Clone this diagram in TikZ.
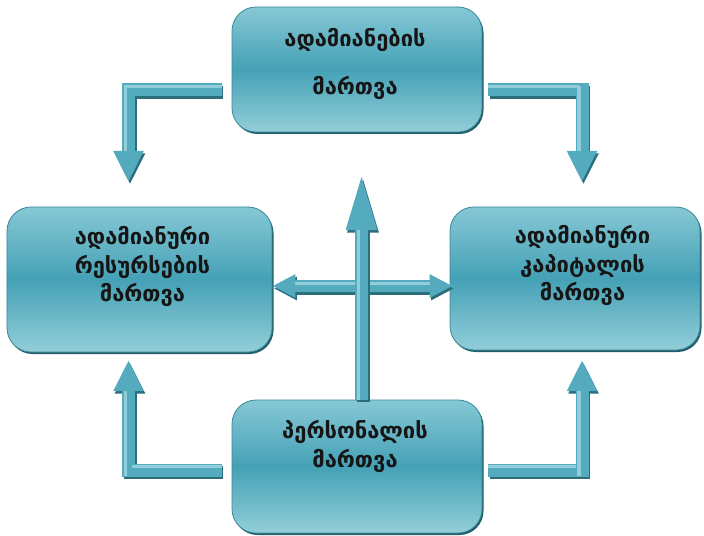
\documentclass[tikz,border=0pt]{standalone}
\usepackage{fontspec}
\newfontfamily\geofont{DejaVu Sans}
\usetikzlibrary{arrows.meta,calc,shadows}

\definecolor{panelTop}{HTML}{86C8D5}
\definecolor{panelMid}{HTML}{45A1B6}
\definecolor{panelBot}{HTML}{93CED9}
\definecolor{panelEdge}{HTML}{3A8899}
\definecolor{panelShade}{HTML}{1F5E6A}
\definecolor{shaftBody}{HTML}{55ABBE}
\definecolor{shaftDark}{HTML}{2C6E7C}
\definecolor{shaftLight}{HTML}{92CEDA}
\definecolor{labelInk}{HTML}{151515}

\tikzset{
  panel/.style 2 args={draw=panelEdge, line width=0.8bp, rounded corners=24bp,
    top color=panelTop, bottom color=panelBot, middle color=panelMid,
    minimum width=#1, minimum height=#2, inner sep=0pt,
    drop shadow={shadow xshift=1.5bp, shadow yshift=-2bp, fill=panelShade, opacity=1}},
  caption/.style={font=\geofont\bfseries\fontsize{22}{28.5}\selectfont,
    text=labelInk, align=center, inner sep=0pt},
  shaft/.style={line width=13bp, line join=miter, line cap=butt, draw=shaftBody},
  shaftshadow/.style={shaft, draw=shaftDark,
    transform canvas={xshift=1.5bp, yshift=-2.5bp}},
  gleam/.style={line width=3.5bp, draw=shaftLight, line cap=butt},
  elbowtip/.style={-{Triangle[width=28bp,length=31bp]}},
  uptip/.style={-{Triangle[width=27bp,length=60bp]}},
  twotips/.style={{Triangle[width=22bp,length=23bp]}-{Triangle[width=22bp,length=23bp]}},
}

\begin{document}
\begin{tikzpicture}[x=1bp, y=-1bp]
\useasboundingbox (0,0) rectangle (704,536);

% the four management blocks
\node[panel={250bp}{125bp}] (top)   at (357,69.5)  {};
\node[panel={265bp}{145bp}] (left)  at (139.5,279.5) {};
\node[panel={250bp}{143bp}] (right) at (575,278.5) {};
\node[panel={250bp}{133bp}] (bot)   at (357,466.5) {};

\node[caption] (topText) at (355,64) {ადამიანების\\[19.5bp]მართვა};
\node[caption] (leftText) at (142.5,266.5) {ადამიანური\\რესურსების\\მართვა};
\node[caption] (rightText) at (582.5,265.5) {ადამიანური\\კაპიტალის\\მართვა};
\node[caption] (botText) at (355,446.5) {პერსონალის\\მართვა};

% reference points for the block arrows
\coordinate (tlB) at (128.5,90);  \coordinate (tlC) at (128.5,182);
\coordinate (trB) at (582,90);    \coordinate (trC) at (582,182);
\coordinate (blB) at (128.5,470); \coordinate (blC) at (128.5,360);
\coordinate (brB) at (582,470);   \coordinate (brC) at (582,360);
\coordinate (tlA) at ($(top.west |- tlB)+(-10bp,0)$);
\coordinate (trA) at ($(top.east |- trB)+(6bp,0)$);
\coordinate (blA) at ($(bot.west |- blB)+(-10bp,0)$);
\coordinate (brA) at ($(bot.east |- brB)+(6bp,0)$);
\coordinate (mid) at (361.5,286);
\coordinate (vtip) at (361.5,170);

% elbow arrows: shadow, body, highlight
\foreach \a/\b/\c in {tlA/tlB/tlC, trA/trB/trC, blA/blB/blC, brA/brB/brC}{
  \draw[shaftshadow, elbowtip, shaftDark] (\a) -- (\b) -- (\c);
  \draw[shaft, elbowtip, shaftBody] (\a) -- (\b) -- (\c);
}
% highlights on the elbow arrows
\draw[gleam] ($(tlA)+(0,-3.5)$) -- ($(tlB)+(-3,-3.5)$) -- ($(tlC)+(-3,-31)$);
\draw[gleam] ($(trA)+(0,-3.5)$) -- ($(trB)+(-3,-3.5)$);
\draw[gleam] ($(trB)+(-3,-3.5)$) -- ($(trC)+(-3,-31)$);
\draw[gleam] ($(blA)+(0,-3.5)$) -- ($(blB)+(3,-3.5)$);
\draw[gleam] ($(blB)+(-3,6)$) -- ($(blC)+(-3,31)$);
\draw[gleam] ($(brA)+(0,-3.5)$) -- ($(brB)+(-6,-3.5)$);
\draw[gleam] ($(brB)+(-3,6)$) -- ($(brC)+(-3,31)$);

% double arrow between the side blocks
\draw[shaftshadow, twotips, line width=12bp, shaftDark] (left.east |- mid) -- ($(right.west |- mid)+(3bp,0)$);
\draw[shaft, twotips, line width=12bp] (left.east |- mid) -- ($(right.west |- mid)+(3bp,0)$);
\draw[gleam, line width=3bp] ($(left.east |- mid)+(23,-3)$) -- ($(right.west |- mid)+(-20,-3)$);

% upward arrow from the bottom block
\draw[shaftshadow, uptip, shaftDark] (bot.north -| mid) -- (vtip);
\draw[shaft, uptip] (bot.north -| mid) -- (vtip);
\draw[gleam] ($(bot.north -| mid)+(-3,0)$) -- ($(vtip)+(-3,60)$);
\end{tikzpicture}
\end{document}
